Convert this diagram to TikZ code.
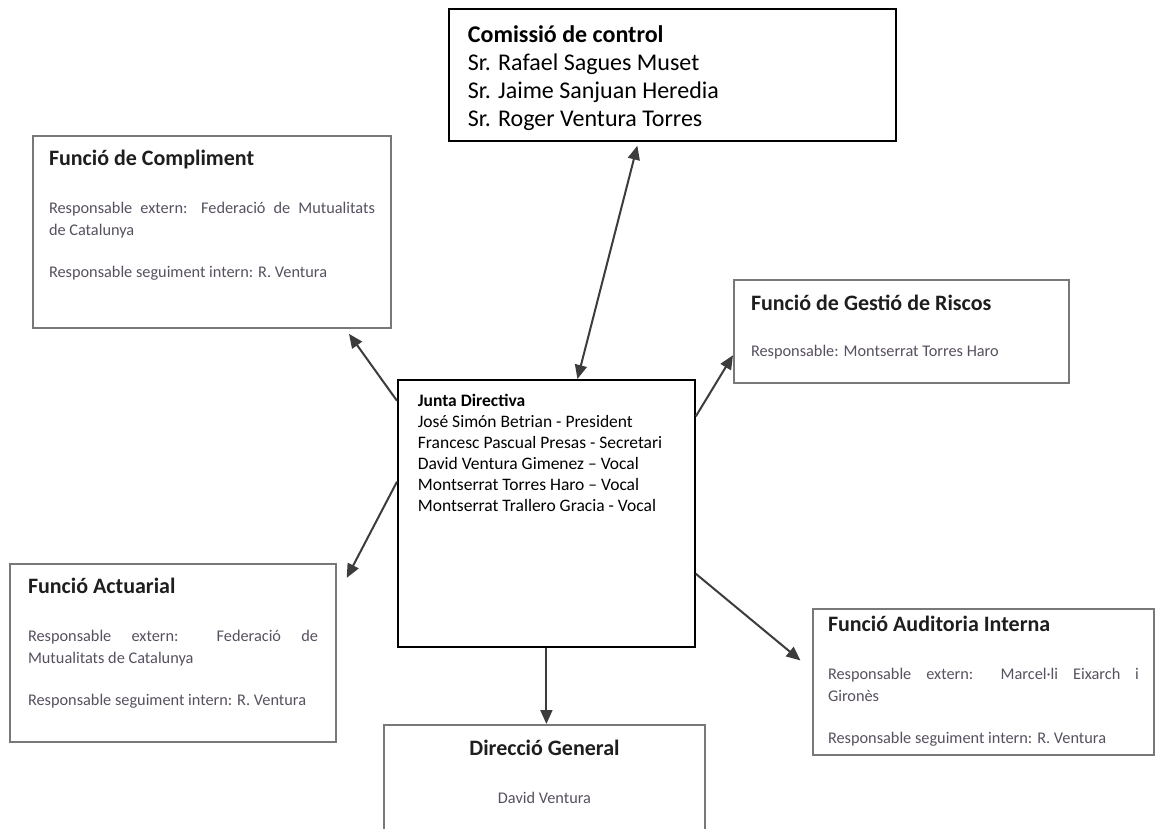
\documentclass[tikz,border=0pt]{standalone}
\usepackage{fontspec}
\setmainfont{Carlito}
\usepackage{tikz}
\usetikzlibrary{arrows.meta}

\definecolor{boxgray}{RGB}{120,120,120}
\definecolor{linkgray}{RGB}{60,60,60}
\definecolor{titlecol}{RGB}{30,30,30}
\definecolor{bodycol}{RGB}{88,80,96}

\newcommand{\boxtext}[4]{\begin{minipage}[t][#2][t]{#1}\rule{0pt}{#3}#4\end{minipage}}
\newcommand{\boxtitle}[1]{{\fontsize{22}{26}\selectfont\bfseries\color{titlecol}#1}}

\begin{document}
\begin{tikzpicture}[x=1pt,y=-1pt]
	\tikzstyle{every node}+=[inner ysep=0pt, anchor=north west]
	\tikzstyle{blackbox}=[draw=black, line width=1.8pt]
	\tikzstyle{graybox}=[draw=boxgray, line width=2pt, text=bodycol, font=\fontsize{16.3}{22}\selectfont]
	\tikzstyle{link}=[draw=linkgray, line width=2pt, -{Triangle[length=14pt,width=12pt]}]
	\tikzstyle{linkboth}=[link, {Triangle[length=14pt,width=12pt]}-{Triangle[length=14pt,width=12pt]}]
	\path[fill=white] (0,0) rectangle (1160,829);
	\useasboundingbox (0,0) rectangle (1160,829);
	\clip (0,0) rectangle (1160,829);
	\node[blackbox, inner xsep=19pt, font=\fontsize{24}{28}\selectfont] (comissio) at (448,8) {\boxtext{409pt}{132pt}{34pt}{\textbf{Comissió de control}\\Sr. Rafael Sagues Muset\\Sr. Jaime Sanjuan Heredia\\Sr. Roger Ventura Torres}};
	\node[graybox, inner xsep=16pt] (compliment) at (32,135) {\boxtext{326pt}{192pt}{30pt}{\boxtitle{Funció de Compliment}\par\vspace{26pt}Responsable extern: Federació de Mutualitats\linebreak de Catalunya\par\vspace{20pt}Responsable seguiment intern: R. Ventura}};
	\node[graybox, inner xsep=17pt] (gestio) at (733,279) {\boxtext{301pt}{103pt}{30pt}{\boxtitle{Funció de Gestió de Riscos}\par\vspace{25pt}Responsable: Montserrat Torres Haro}};
	\node[blackbox, inner xsep=20pt, font=\fontsize{17.5}{21}\selectfont] (junta) at (397,379) {\boxtext{257pt}{267pt}{27pt}{\textbf{Junta Directiva}\\José Simón Betrian - President\\Francesc Pascual Presas - Secretari\\David Ventura Gimenez – Vocal\\Montserrat Torres Haro – Vocal\\Montserrat Trallero Gracia - Vocal}};
	\node[graybox, inner xsep=18pt] (actuarial) at (9,563) {\boxtext{290pt}{178pt}{29pt}{\boxtitle{Funció Actuarial}\par\vspace{26pt}Responsable extern: Federació de\linebreak Mutualitats de Catalunya\par\vspace{20pt}Responsable seguiment intern: R. Ventura}};
	\node[graybox, inner xsep=15pt] (auditoria) at (812,608) {\boxtext{311pt}{146pt}{22pt}{\boxtitle{Funció Auditoria Interna}\par\vspace{26pt}Responsable extern: Marcel·li Eixarch i\linebreak Gironès\par\vspace{20pt}Responsable seguiment intern: R. Ventura}};
	\node[graybox, inner xsep=10pt] (direccio) at (383,724) {\boxtext{301pt}{130pt}{30pt}{\centering\boxtitle{Direcció General}\par\vspace{26pt}David Ventura}};
	\draw[linkboth, shorten <=4pt] (comissio.-117) -- (junta.77);
	\draw[link, shorten >=6pt] (junta.143) -- (compliment.-36);
	\draw[link, shorten >=21pt] (junta.168) -- (actuarial.19);
	\draw[link] (junta.33) -- (gestio.-172);
	\draw[link, shorten >=15pt] (junta.-22) -- (auditoria.176);
	\draw[link] (junta.south) -- (junta.south |- direccio.north);
\end{tikzpicture}
\end{document}
